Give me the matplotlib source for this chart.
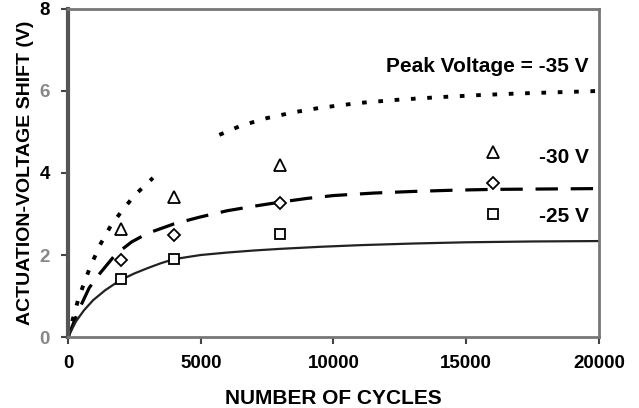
import matplotlib.pyplot as plt

plt.rcParams['font.family'] = ['Liberation Sans', 'DejaVu Sans']
plt.rcParams['font.weight'] = 'bold'

# measured shifts at each cycle count
cycles = [2000, 4000, 8000, 16000]
shift_35 = [2.63, 3.41, 4.20, 4.51]   # triangles
shift_30 = [1.88, 2.49, 3.27, 3.76]   # diamonds
shift_25 = [1.41, 1.90, 2.51, 3.00]   # squares

# fitted curves
fit35_a_x = [0, 400, 800, 1200, 1600, 2000, 2500, 3200]
fit35_a_y = [0, 0.95, 1.65, 2.24, 2.70, 3.05, 3.45, 3.88]
fit35_b_x = [5700, 6500, 7500, 8500, 9500, 11000, 12500, 14000, 15500, 17000, 18500, 20000]
fit35_b_y = [4.93, 5.15, 5.34, 5.48, 5.59, 5.71, 5.79, 5.85, 5.90, 5.94, 5.97, 6.00]

fit30_x = [0, 400, 800, 1200, 1800, 2400, 3000, 4000, 5000, 6000, 7000, 8000, 9000,
           10000, 11500, 13000, 14500, 16000, 18000, 20000]
fit30_y = [0, 0.65, 1.20, 1.55, 2.02, 2.32, 2.53, 2.76, 2.93, 3.08, 3.19, 3.29, 3.38,
           3.45, 3.51, 3.55, 3.58, 3.60, 3.61, 3.62]

fit25_x = [0, 300, 600, 950, 1400, 1950, 2500, 3000, 3500, 4000, 5000, 6000, 7000,
           8000, 9500, 11000, 13000, 15000, 17500, 20000]
fit25_y = [0, 0.38, 0.65, 0.90, 1.14, 1.38, 1.55, 1.68, 1.80, 1.90, 2.00, 2.06, 2.11,
           2.15, 2.20, 2.24, 2.28, 2.31, 2.33, 2.34]

fig = plt.figure(figsize=(6.39, 4.08), dpi=100)
ax = fig.add_axes([0.1064, 0.174, 0.831, 0.804])

# curves
ax.plot(fit35_a_x, fit35_a_y, color='black', lw=2.8, linestyle=(0, (1.2, 3.0)))
ax.plot(fit35_b_x, fit35_b_y, color='black', lw=2.8, linestyle=(0, (1.2, 3.0)))
ax.plot(fit30_x, fit30_y, color='black', lw=2.3, linestyle=(0, (7, 4)))
ax.plot(fit25_x, fit25_y, color='#222222', lw=1.6)

# data points
ax.plot(cycles, shift_35, linestyle='none', marker='^', markersize=8,
        markerfacecolor='white', markeredgecolor='black', markeredgewidth=1.3)
ax.plot(cycles, shift_30, linestyle='none', marker='D', markersize=6,
        markerfacecolor='white', markeredgecolor='black', markeredgewidth=1.3)
ax.plot(cycles, shift_25, linestyle='none', marker='s', markersize=7.5,
        markerfacecolor='white', markeredgecolor='black', markeredgewidth=1.3)

# series labels
ax.text(19600, 6.59, 'Peak Voltage = -35 V', ha='right', va='center', fontsize=15,
        fontweight='bold')
ax.text(19600, 4.39, '-30 V', ha='right', va='center', fontsize=15, fontweight='bold')
ax.text(19600, 2.93, '-25 V', ha='right', va='center', fontsize=15, fontweight='bold')

ax.set_xlim(0, 20000)
ax.set_ylim(0, 8)
ax.set_xticks([0, 5000, 10000, 15000, 20000])
ax.set_yticks([0, 2, 4, 6, 8])
ax.tick_params(labelsize=13.5, length=5, width=1.5, color='#444444', pad=8)
for lbl in ax.get_xticklabels() + ax.get_yticklabels():
    lbl.set_fontweight('bold')
for lbl, c in zip(ax.get_yticklabels(), ['#888888', '#888888', 'black', '#888888', 'black']):
    lbl.set_color(c)

ax.set_xlabel('NUMBER OF CYCLES', fontsize=15, fontweight='bold', labelpad=12)
ax.set_ylabel('ACTUATION-VOLTAGE SHIFT (V)', fontsize=14, fontweight='bold', labelpad=4)

ax.spines['left'].set_linewidth(3)
ax.spines['left'].set_color('#555555')
for side in ['top', 'right', 'bottom']:
    ax.spines[side].set_linewidth(2)
    ax.spines[side].set_color('#777777')

fig.savefig('out.png', dpi=100)
